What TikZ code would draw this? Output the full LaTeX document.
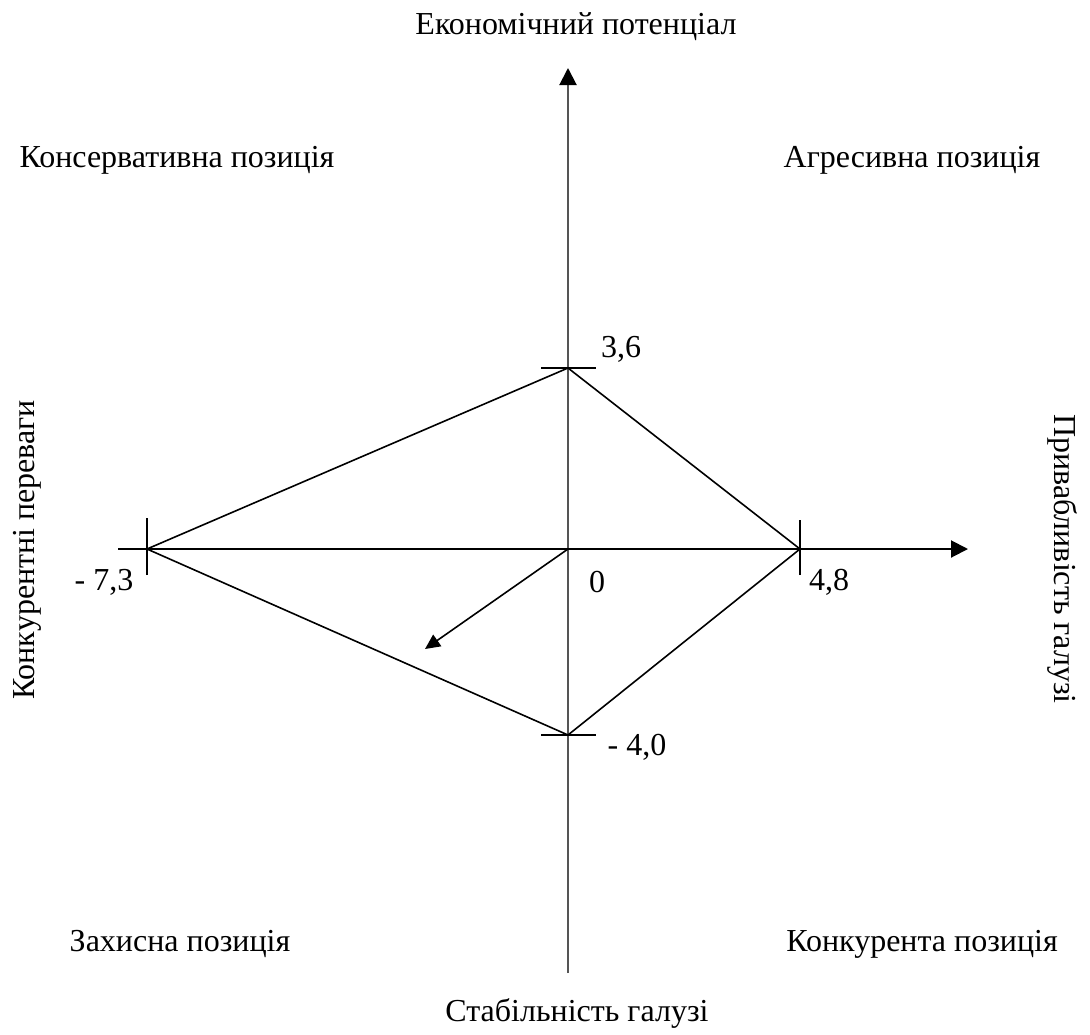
\documentclass[tikz,border=0pt]{standalone}
\usepackage{fontspec}
\setmainfont{Liberation Serif}
\usetikzlibrary{arrows.meta}
\begin{document}
\begin{tikzpicture}[x=1pt,y=-1pt,
  lbl/.style={font=\fontsize{32}{38}\selectfont, inner sep=0pt},
  axisv/.style={line width=2pt, draw={rgb,255:red,85;green,85;blue,85}},
  axish/.style={line width=2pt, draw=black},
  edge/.style={line width=1.6pt, draw=black},
  tick/.style={line width=1.6pt, draw=black},
  tip/.style={-{Triangle[length=17pt,width=17pt,color=black]}}]
\useasboundingbox (0,0) rectangle (1090,1034);
% key points
\coordinate (O) at (568,549);
\coordinate (T) at (568,368);
\coordinate (R) at (800,549);
\coordinate (B) at (568,735);
\coordinate (L) at (147,549);
\coordinate (Vbot) at (568,973);
\coordinate (Vtop) at (568,68);
\coordinate (Hleft) at (118,549);
\coordinate (Hright) at (968,549);
\coordinate (D) at (425,649);
% axes
\draw[axisv,tip] (Vbot) -- (Vtop);
\draw[axish,tip] (Hleft) -- (Hright);
% ticks
\draw[tick] ([xshift=-27pt]T) -- ([xshift=28pt]T);
\draw[tick] ([xshift=-27pt]B) -- ([xshift=28pt]B);
\draw[tick] ([yshift=-26pt]L) -- ([yshift=31pt]L);
\draw[tick] ([yshift=-26pt]R) -- ([yshift=29pt]R);
% diamond
\draw[edge] (L) -- (T) -- (R) -- (B) -- cycle;
% direction arrow
\draw[edge,-{Triangle[length=15pt,width=14pt]}] (O) -- (D);
% labels
\node[lbl] (top) at (576,27) {Економічний потенціал};
\node[lbl] (q2) at (177,160) {Консервативна позиція};
\node[lbl] (q1) at (912,160) {Агресивна позиція};
\node[lbl] (q3) at (180,944) {Захисна позиція};
\node[lbl] (q4) at (922,944) {Конкурента позиція};
\node[lbl] (bot) at (577,1013) {Стабільність галузі};
\node[lbl,rotate=90] (left) at (27,550) {Конкурентні переваги};
\node[lbl,rotate=-90] (right) at (1062,559) {Привабливість галузі};
\node[lbl] (v36) at (621,349) {3,6};
\node[lbl] (v73) at (104,582) {- 7,3};
\node[lbl] (v0) at (597,582) {0};
\node[lbl] (v48) at (829,582) {4,8};
\node[lbl] (v40) at (637,747) {- 4,0};
\end{tikzpicture}
\end{document}
